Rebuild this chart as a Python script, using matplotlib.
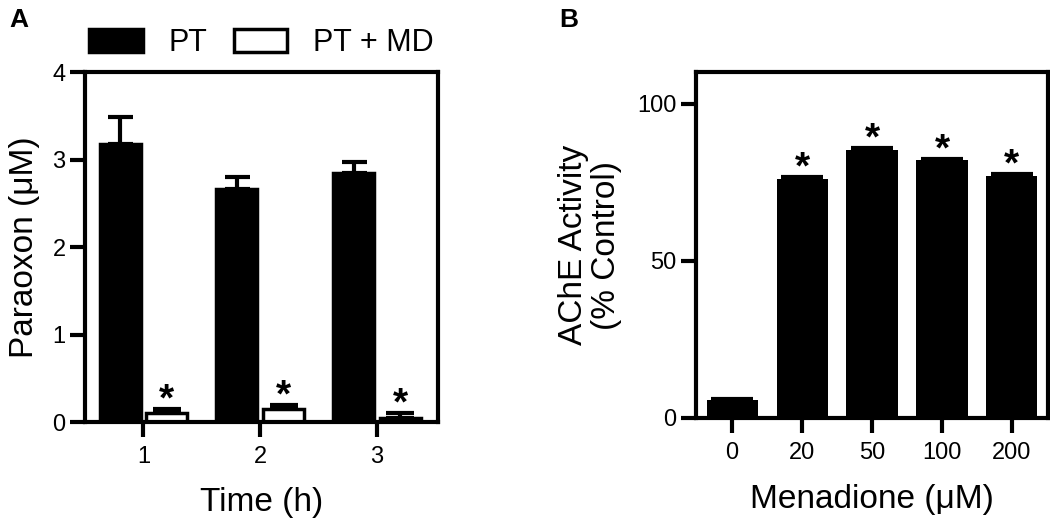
import numpy as np
from matplotlib import pyplot as plt
from matplotlib.patches import Patch

plt.rcParams['font.family'] = ['Liberation Sans', 'DejaVu Sans']

# Panel A data: paraoxon remaining (uM)
times = [1, 2, 3]
pt_mean = [3.18, 2.66, 2.85]
pt_err = [0.31, 0.14, 0.12]
md_mean = [0.10, 0.15, 0.05]
md_err = [0.05, 0.04, 0.05]

# Panel B data: AChE activity (% control)
menadione = ['0', '20', '50', '100', '200']
ache_mean = [5.7, 75.9, 85.4, 82.2, 77.1]
ache_err = [0.2, 0.9, 0.6, 0.3, 0.6]
ache_sig = [False, True, True, True, True]

fig = plt.figure(figsize=(10.5, 5.23), dpi=100)

spine_w = 3
tick_kw = dict(direction='out', length=11, width=3, labelsize=17)
label_fs = 24
star_kw = dict(textcoords='offset points', ha='center', va='baseline',
               fontsize=28, fontweight='bold')

# ---- Panel A ----
axA = fig.add_axes([0.081, 0.193, 0.336, 0.669])
x = np.array(times)
w = 0.35
axA.bar(x - 0.2, pt_mean, w, color='black', edgecolor='black', linewidth=2.5, zorder=2)
axA.errorbar(x - 0.2, pt_mean, yerr=[np.zeros(3), pt_err], fmt='none', ecolor='black',
             elinewidth=3, capsize=9, capthick=3, zorder=1)
axA.bar(x + 0.2, md_mean, w, color='white', edgecolor='black', linewidth=2.5, zorder=2)
axA.errorbar(x + 0.2, md_mean, yerr=[np.zeros(3), md_err], fmt='none', ecolor='black',
             elinewidth=3, capsize=10, capthick=3, zorder=1)
for xi, m, e in zip(x + 0.2, md_mean, md_err):
    axA.annotate('*', (xi, m + e), xytext=(0, -1), **star_kw)

axA.set_xlim(0.5, 3.52)
axA.set_ylim(0, 4)
axA.set_xticks(times)
axA.set_yticks([0, 1, 2, 3, 4])
axA.tick_params(axis='y', pad=3, **tick_kw)
axA.tick_params(axis='x', pad=6, **tick_kw)
for s in axA.spines.values():
    s.set_linewidth(spine_w)
axA.set_ylabel('Paraoxon (μM)', fontsize=label_fs)
axA.yaxis.set_label_coords(-0.128, 0.5)
axA.set_xlabel('Time (h)', fontsize=label_fs)
axA.xaxis.set_label_coords(0.5, -0.186)

handles = [Patch(facecolor='black', edgecolor='black', linewidth=2.5, label='PT'),
           Patch(facecolor='white', edgecolor='black', linewidth=2.5, label='PT + MD')]
axA.legend(handles=handles, loc='lower center', bbox_to_anchor=(0.5, 1.005), ncol=2,
           frameon=False, fontsize=22, handlelength=1.75, handleheight=0.75,
           handletextpad=0.85, columnspacing=0.85, borderaxespad=0)

# ---- Panel B ----
axB = fig.add_axes([0.663, 0.2008, 0.335, 0.661])
xb = np.arange(len(menadione))
axB.bar(xb, ache_mean, 0.73, color='black', zorder=2)
axB.errorbar(xb, ache_mean, yerr=[np.zeros(len(xb)), ache_err], fmt='none', ecolor='black',
             elinewidth=3, capsize=15, capthick=3, zorder=1)
for xi, m, e, s in zip(xb, ache_mean, ache_err, ache_sig):
    if s:
        axB.annotate('*', (xi, m + e), xytext=(0, -1), **star_kw)

axB.set_xlim(-0.514, 4.514)
axB.set_ylim(0, 110)
axB.set_xticks(xb)
axB.set_xticklabels(menadione)
axB.set_yticks([0, 50, 100])
axB.tick_params(axis='y', pad=3, **tick_kw)
axB.tick_params(axis='x', pad=6, **tick_kw)
for s in axB.spines.values():
    s.set_linewidth(spine_w)
axB.set_ylabel('AChE Activity\n(% Control)', fontsize=label_fs, linespacing=1.1)
axB.yaxis.set_label_coords(-0.21, 0.5)
axB.set_xlabel('Menadione (μM)', fontsize=label_fs)
axB.xaxis.set_label_coords(0.5, -0.19)

fig.text(0.009, 0.985, 'A', fontsize=19, fontweight='bold', va='top')
fig.text(0.533, 0.985, 'B', fontsize=19, fontweight='bold', va='top')

fig.savefig('out.png', dpi=100)
